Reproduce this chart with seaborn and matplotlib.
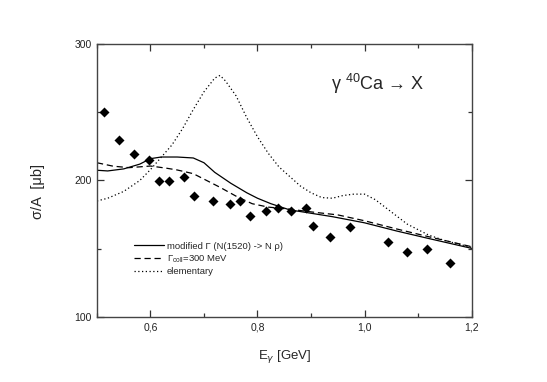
import numpy as np
import pandas as pd
import matplotlib
matplotlib.use("Agg")
import matplotlib.pyplot as plt
import seaborn as sns
from matplotlib.ticker import MultipleLocator, FuncFormatter

# data points (diamonds)
data_E = [0.514, 0.541, 0.569, 0.597, 0.615, 0.634, 0.662, 0.682, 0.716, 0.749,
          0.768, 0.786, 0.816, 0.838, 0.862, 0.890, 0.903, 0.936, 0.973, 1.043,
          1.079, 1.117, 1.159]
data_sigma = [250, 230, 219.6, 214.8, 199.6, 199.6, 202.8, 189, 184.8, 182.6,
              184.8, 173.8, 178, 179.9, 178, 179.9, 167, 158.6, 165.8, 154.7,
              147.6, 149.6, 139.6]

# modified width curve
mod_E = [0.50, 0.52, 0.55, 0.58, 0.60, 0.62, 0.65, 0.68, 0.70, 0.72, 0.75, 0.78,
         0.80, 0.825, 0.86, 0.90, 0.94, 1.00, 1.06, 1.12, 1.20]
mod_sigma = [207.5, 207, 208.5, 212, 216, 217.2, 217.2, 216.5, 213, 206, 198, 191,
             187, 183, 178.5, 176, 173.5, 169, 163, 157.5, 150.3]

# collisional width curve
coll_E = [0.50, 0.53, 0.56, 0.60, 0.63, 0.65, 0.68, 0.70, 0.73, 0.76, 0.79, 0.82,
          0.86, 0.90, 0.95, 1.00, 1.06, 1.12, 1.20]
coll_sigma = [213, 210.5, 209.4, 210.6, 209, 207.7, 205, 201, 195, 188.5, 183, 180.5,
              179, 177, 174.8, 170.5, 164.5, 158.8, 151.5]

# elementary curve
elem_E = [0.50, 0.52, 0.55, 0.58, 0.60, 0.62, 0.64, 0.66, 0.68, 0.70, 0.72, 0.73,
          0.74, 0.76, 0.78, 0.80, 0.82, 0.84, 0.86, 0.88, 0.90, 0.92, 0.94, 0.96,
          0.98, 1.00, 1.02, 1.04, 1.06, 1.08, 1.10, 1.12, 1.15, 1.20]
elem_sigma = [185, 187, 192, 200, 208, 217, 226, 238, 252, 265, 275, 277,
              273, 262, 246, 232, 220, 210, 203, 196, 191, 187.5, 187, 189,
              190, 190, 186, 180, 174, 168, 164, 160, 156, 151]

labels = ["modified \u0393 (N(1520) -> N \u03c1)", "\u0393$_{\\rm coll}$=300 MeV", "elementary"]

sns.set_theme(style="white")
plt.rcParams['font.family'] = ['Liberation Sans', 'DejaVu Sans']
plt.rcParams['mathtext.fontset'] = 'custom'
plt.rcParams['mathtext.rm'] = 'Liberation Sans'

fig = plt.figure(figsize=(5.47, 3.82), dpi=100)
ax = fig.add_axes([0.1773, 0.1702, 0.862 - 0.1773, 0.8848 - 0.1702])

sns.lineplot(x=mod_E, y=mod_sigma, ax=ax, color="black", lw=0.9, linestyle="-", label=labels[0])
sns.lineplot(x=coll_E, y=coll_sigma, ax=ax, color="black", lw=0.9, linestyle=(0, (5, 3)), label=labels[1])
sns.lineplot(x=elem_E, y=elem_sigma, ax=ax, color="black", lw=0.9, linestyle=(0, (1, 2)), label=labels[2])
sns.scatterplot(x=data_E, y=data_sigma, ax=ax, marker="D", s=26, color="black", edgecolor="black", linewidth=0, zorder=5)

ax.set_xlim(0.5, 1.2)
ax.set_ylim(100, 300)
ax.xaxis.set_major_locator(MultipleLocator(0.2))
ax.yaxis.set_major_locator(MultipleLocator(100))
ax.yaxis.set_minor_locator(MultipleLocator(50))
ax.xaxis.set_major_formatter(FuncFormatter(lambda v, p: ("%.1f" % v).replace(".", ",")))
ax.yaxis.set_major_formatter(FuncFormatter(lambda v, p: "%d" % v))
ax.tick_params(which="both", direction="in", top=True, right=True, bottom=True, left=True,
               color="#333333", labelsize=7.5, labelcolor="#222222", pad=4)
ax.tick_params(which="major", length=5, width=0.9)
ax.tick_params(which="minor", length=3, width=0.9)
ax.set_xticks([0.5, 0.7, 0.9, 1.1], minor=True)
for sp in ax.spines.values():
    sp.set_color("#444444")
    sp.set_linewidth(1.0)

ax.set_xlabel("E$_{\\gamma}$ [GeV]", fontsize=9.5)
ax.set_ylabel("\u03c3/A  [\u03bcb]", fontsize=10.5)
ax.xaxis.set_label_coords(0.50, -0.112)
ax.yaxis.set_label_coords(-0.138, 0.46)

ax.text(0.625, 0.855, "\u03b3 $^{40}$Ca \u2192 X", transform=ax.transAxes, fontsize=13,
        ha="left", va="center")

leg = ax.legend(loc="upper left", bbox_to_anchor=(0.08, 0.30), frameon=False, fontsize=6.8,
                handlelength=3.2, handletextpad=0.3, labelspacing=0.25, borderpad=0.2)

fig.savefig("out.png", dpi=100)
